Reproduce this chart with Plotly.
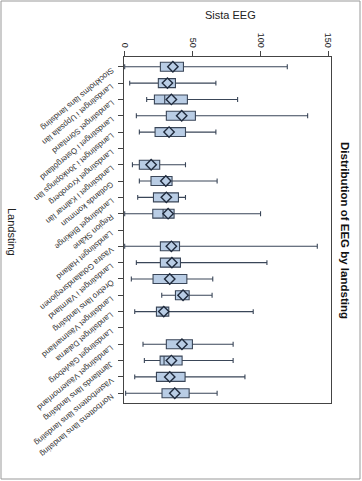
import plotly.graph_objects as go

categories = [
    "Stockholms läns landsting", "Landstinget i Uppsala län", "Landstinget Sörmland",
    "Landstinget i Östergötland", "Landstinget i Jönköpings län", "Landstinget Kronoberg",
    "Landstinget i Kalmar län", "Gotlands kommun", "Landstinget Blekinge", "Region Skåne",
    "Landstinget Halland", "Västra Götalandsregionen", "Landstinget i Värmland",
    "Örebro läns landsting", "Landstinget Västmanland", "Landstinget Dalarna",
    "Landstinget Gävleborg", "Landstinget Västernorrland", "Jämtlands läns landsting",
    "Västerbottens läns landsting", "Norrbottens läns landsting",
]

# boxes exist only for these categories
box_cats = [
    "Stockholms läns landsting", "Landstinget i Uppsala län", "Landstinget Sörmland",
    "Landstinget i Östergötland", "Landstinget i Jönköpings län",
    "Landstinget i Kalmar län", "Gotlands kommun", "Landstinget Blekinge", "Region Skåne",
    "Västra Götalandsregionen", "Landstinget i Värmland",
    "Örebro läns landsting", "Landstinget Västmanland", "Landstinget Dalarna",
    "Landstinget Västernorrland", "Jämtlands läns landsting",
    "Västerbottens läns landsting", "Norrbottens läns landsting",
]
lower = [0.0, 3.7, 16.2, 8.6, 10.8, 5.7, 10.8, 9.6, 0.0, 0.0, 8.6, 4.9, 27.3, 7.4, 13.5, 14.5, 7.4, 0.7]
q1 = [26.3, 24.8, 21.9, 30.7, 22.4, 10.8, 19.4, 21.2, 20.7, 26.3, 26.3, 20.9, 37.4, 23.4, 30.7, 26.1, 23.4, 27.5]
median = [35.0, 30.5, 29.5, 41.5, 32.0, 19.5, 29.5, 30.5, 28.3, 34.0, 34.5, 33.0, 43.8, 28.5, 42.0, 29.0, 33.0, 36.5]
q3 = [43.3, 37.4, 46.2, 52.1, 44.8, 25.8, 34.9, 39.6, 36.4, 40.4, 41.1, 45.8, 47.5, 32.5, 49.9, 42.3, 44.5, 47.5]
upper = [119.8, 67.2, 83.2, 134.8, 67.2, 44.8, 68.1, 44.8, 100.1, 141.9, 104.8, 64.9, 64.4, 94.7, 79.9, 79.9, 88.6, 68.1]
mean = [35.5, 31.5, 34.4, 42.0, 32.7, 19.5, 30.3, 30.7, 32.0, 34.4, 34.8, 33.2, 43.0, 28.8, 42.2, 34.4, 33.2, 36.9]

x_ticks = [0, 50, 100, 150]

FILL = "#b9cde5"
EDGE = "#3a4658"

fig = go.Figure()
fig.add_trace(go.Box(
    y=box_cats, q1=q1, median=median, q3=q3,
    lowerfence=lower, upperfence=upper,
    orientation="h", boxpoints=False,
    fillcolor=FILL, line=dict(color=EDGE, width=1.1),
    width=0.55, whiskerwidth=0.55, showlegend=False, hoverinfo="skip",
))
fig.add_trace(go.Scatter(
    x=mean, y=box_cats, mode="markers",
    marker=dict(symbol="diamond", size=8, color=FILL, line=dict(color="#1f2a3c", width=1.4)),
    showlegend=False, hoverinfo="skip",
))

L, R, T, B = 124, 31, 57, 78
W, H = 362, 481
pw, ph = W - L - R, H - T - B

def px(x):
    return (x - L) / pw

def py(y):
    return 1 - (y - T) / ph

annotations = [
    dict(text="Sista EEG", xref="paper", yref="paper", x=px(230), y=py(15),
         showarrow=False, font=dict(size=11, color="#222"), xanchor="center", yanchor="middle"),
    dict(text="Landsting", xref="paper", yref="paper", x=px(12), y=py(232),
         showarrow=False, textangle=90, font=dict(size=11, color="#222"),
         xanchor="center", yanchor="middle"),
    dict(text="<b>Distribution of EEG by landsting</b>", xref="paper", yref="paper",
         x=px(345), y=py(230), showarrow=False, textangle=90,
         font=dict(size=11.5, color="#111"), xanchor="center", yanchor="middle"),
]
for c in categories:
    annotations.append(dict(
        text=c, xref="paper", yref="y", x=px(118), y=c, yshift=4,
        showarrow=False, textangle=140, xanchor="right", yanchor="top",
        font=dict(size=8, color="#333"),
    ))

fig.update_layout(
    width=W, height=H,
    margin=dict(l=L, r=R, t=T, b=B, pad=0),
    paper_bgcolor="white", plot_bgcolor="white",
    font=dict(family="Liberation Sans, Arial, sans-serif", size=9, color="#222"),
    xaxis=dict(
        side="top", range=[-0.5, 152], tickvals=x_ticks, ticktext=[str(v) for v in x_ticks],
        tickangle=90, ticks="outside", ticklen=5, tickcolor="#444",
        showline=True, linecolor="#444", linewidth=1, mirror=True,
        showgrid=False, zeroline=False, tickfont=dict(size=9), automargin=False,
    ),
    yaxis=dict(
        type="category", categoryorder="array", categoryarray=categories,
        tickvals=categories, showticklabels=False,
        range=[20.6, -0.6], ticks="outside", ticklen=5, tickcolor="#444",
        showline=True, linecolor="#444", linewidth=1, mirror=True,
        showgrid=False, zeroline=False, automargin=False,
    ),
    annotations=annotations,
    shapes=[
        dict(type="rect", xref="paper", yref="paper",
             x0=px(1), x1=px(360), y0=py(479), y1=py(1),
             line=dict(color="#999", width=1)),
    ],
)

fig.write_html(
    "out.html",
    config={"displayModeBar": False, "staticPlot": True},
    post_script="document.body.style.margin='0';document.body.style.padding='0';"
                "document.body.style.overflow='hidden';",
)
